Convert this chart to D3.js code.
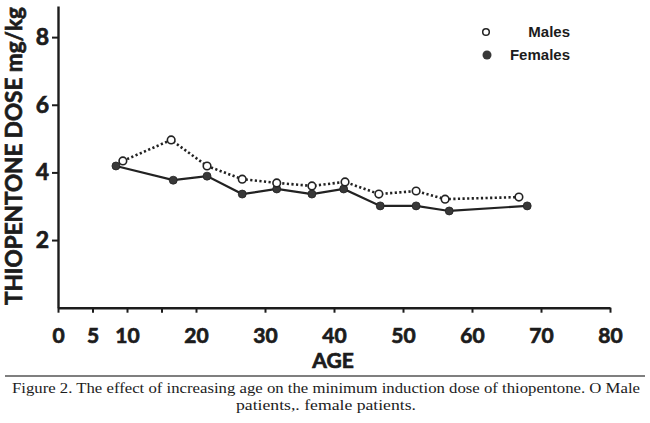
<!DOCTYPE html>
<html>
<head>
<meta charset="utf-8">
<script src="https://cdn.jsdelivr.net/npm/d3@7"></script>
<style>
  body { margin: 0; background: #fff; }
  svg { display: block; }
</style>
</head>
<body>
<div id="chart"></div>
<script>
// data
const femaleAge  = [8.4, 16.7, 21.6, 26.7, 31.7, 36.8, 41.4, 46.7, 51.9, 56.7, 68.0];
const femaleDose = [4.19, 3.77, 3.89, 3.36, 3.51, 3.36, 3.51, 3.01, 3.01, 2.86, 3.01];
const maleAge    = [9.4, 16.4, 21.6, 26.7, 31.7, 36.8, 41.6, 46.5, 51.9, 56.1, 66.8];
const maleDose   = [4.34, 4.96, 4.19, 3.80, 3.69, 3.60, 3.72, 3.36, 3.45, 3.21, 3.27];
const xTicks = [0, 5, 10, 15, 20, 30, 40, 50, 60, 70, 80];
const yTicks = [2, 4, 6, 8];
const captionLines = [
    "Figure 2. The effect of increasing age on the minimum induction dose of thiopentone. O Male",
    "patients,. female patients."
];

const width = 650;
const height = 423;
const ink = "#1c1c1c";
const font = "Lato, 'DejaVu Sans', sans-serif";

const svg = d3.select("#chart")
    .append("svg")
    .attr("width", width)
    .attr("height", height);

const x = d3.scaleLinear().domain([0, 80]).range([58, 610]);
const y = d3.scaleLinear().domain([0, 8.92]).range([307.7, 6]);

// x axis
const gx = svg.append("g")
    .attr("transform", `translate(0,${y(0)})`)
    .call(d3.axisBottom(x)
        .tickValues(xTicks)
        .tickFormat(d => d === 15 ? "" : d)
        .tickSize(5)
        .tickSizeOuter(0)
        .tickPadding(15));

// y axis
const gy = svg.append("g")
    .attr("transform", `translate(${x(0)},0)`)
    .call(d3.axisLeft(y)
        .tickValues(yTicks)
        .tickSize(6)
        .tickSizeOuter(0)
        .tickPadding(3));

[gx, gy].forEach(g => {
    g.select(".domain").attr("stroke", ink).attr("stroke-width", 2.4);
    g.selectAll(".tick line").attr("stroke", ink).attr("stroke-width", 2);
    g.selectAll(".tick text")
        .attr("fill", ink)
        .attr("stroke", ink)
        .attr("stroke-width", 0.7)
        .attr("font-family", font)
        .attr("font-weight", "bold")
        .attr("font-size", "21px");
});
gy.selectAll(".tick text").attr("font-size", "23px");

// axis titles
svg.append("text")
    .attr("transform", `translate(22,156) rotate(-90)`)
    .attr("text-anchor", "middle")
    .attr("textLength", 298)
    .attr("lengthAdjust", "spacingAndGlyphs")
    .attr("font-family", font)
    .attr("font-weight", "bold")
    .attr("font-size", "23px")
    .attr("fill", ink)
    .attr("stroke", ink)
    .attr("stroke-width", 0.7)
    .text("THIOPENTONE DOSE mg/kg");

svg.append("text")
    .attr("x", 333)
    .attr("y", 368)
    .attr("text-anchor", "middle")
    .attr("font-family", font)
    .attr("font-weight", "bold")
    .attr("font-size", "21px")
    .attr("fill", ink)
    .attr("stroke", ink)
    .attr("stroke-width", 0.7)
    .text("AGE");

// series
const line = d3.line().x(d => x(d[0])).y(d => y(d[1]));
const females = femaleAge.map((a, i) => [a, femaleDose[i]]);
const males = maleAge.map((a, i) => [a, maleDose[i]]);

svg.append("path")
    .datum(females)
    .attr("d", line)
    .attr("fill", "none")
    .attr("stroke", "#222")
    .attr("stroke-width", 2.2);

svg.append("path")
    .datum(males)
    .attr("d", line)
    .attr("fill", "none")
    .attr("stroke", "#222")
    .attr("stroke-width", 2.6)
    .attr("stroke-dasharray", "2.2 2.4");

svg.selectAll(".female")
    .data(females)
    .join("circle")
    .attr("class", "female")
    .attr("cx", d => x(d[0]))
    .attr("cy", d => y(d[1]))
    .attr("r", 4)
    .attr("fill", "#383838")
    .attr("stroke", "#222")
    .attr("stroke-width", 0.8);

svg.selectAll(".male")
    .data(males)
    .join("circle")
    .attr("class", "male")
    .attr("cx", d => x(d[0]))
    .attr("cy", d => y(d[1]))
    .attr("r", 3.8)
    .attr("fill", "#fff")
    .attr("stroke", "#222")
    .attr("stroke-width", 1.6);

// legend
const legend = svg.append("g")
    .attr("font-family", "'Liberation Sans', Arial, sans-serif")
    .attr("font-weight", "bold")
    .attr("font-size", "15px")
    .attr("fill", ink);

legend.append("circle")
    .attr("cx", 486).attr("cy", 32).attr("r", 3.3)
    .attr("fill", "#fff").attr("stroke", "#222").attr("stroke-width", 1.5);
legend.append("text")
    .attr("x", 570).attr("y", 37).attr("text-anchor", "end")
    .text("Males");

legend.append("circle")
    .attr("cx", 487).attr("cy", 55).attr("r", 4.5)
    .attr("fill", "#383838");
legend.append("text")
    .attr("x", 570).attr("y", 60).attr("text-anchor", "end")
    .text("Females");

// caption
svg.append("line")
    .attr("x1", 5).attr("x2", 645)
    .attr("y1", 376).attr("y2", 376)
    .attr("stroke", "#555")
    .attr("stroke-width", 1.5);

svg.selectAll(".caption")
    .data(captionLines)
    .join("text")
    .attr("class", "caption")
    .attr("x", 326)
    .attr("y", (d, i) => 393 + i * 17)
    .attr("text-anchor", "middle")
    .attr("textLength", (d, i) => i === 0 ? 628 : 180)
    .attr("lengthAdjust", "spacingAndGlyphs")
    .attr("font-family", "'Liberation Serif', 'DejaVu Serif', serif")
    .attr("font-size", "15.5px")
    .attr("fill", ink)
    .text(d => d);
</script>
</body>
</html>
